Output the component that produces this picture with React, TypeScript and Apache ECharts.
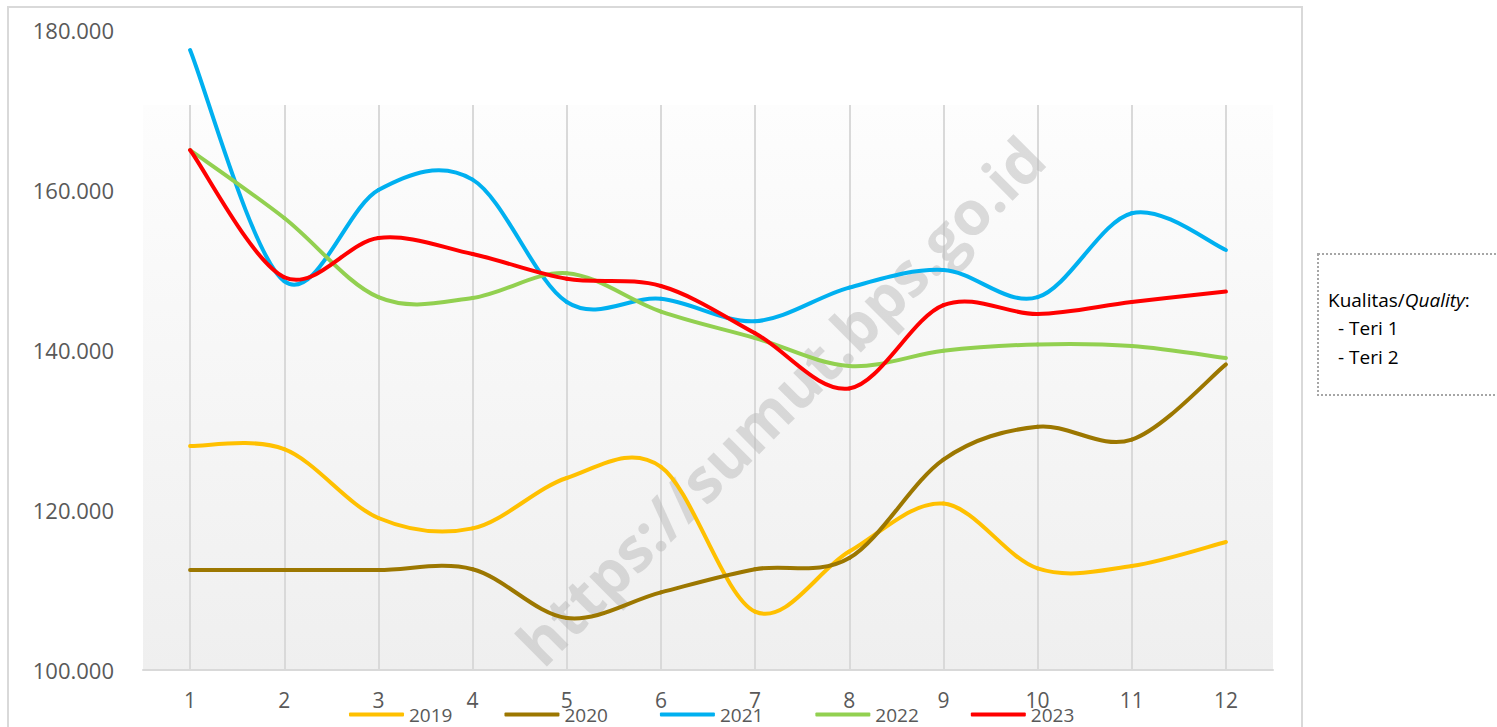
import React, { useEffect, useRef } from 'react';
import * as echarts from 'echarts';

const months = ['1', '2', '3', '4', '5', '6', '7', '8', '9', '10', '11', '12'];
const years = ['2019', '2020', '2021', '2022', '2023'];
const v2019 = [128000, 127600, 119000, 117700, 124000, 125400, 107300, 114800, 120800, 112700, 113000, 116000];
const v2020 = [112500, 112500, 112500, 112600, 106500, 109700, 112600, 114000, 126300, 130400, 128800, 138200];
const v2021 = [177500, 148600, 160000, 161300, 146000, 146400, 143600, 147800, 150000, 146600, 157100, 152500];
const v2022 = [165000, 156500, 146600, 146500, 149600, 144800, 141500, 138000, 139900, 140700, 140500, 139000];
const v2023 = [165000, 149100, 154000, 152000, 148900, 148000, 142100, 135200, 145600, 144500, 146000, 147300];
const seriesValues = [v2019, v2020, v2021, v2022, v2023];
const colors = ['#FFC000', '#9C7700', '#00B0F0', '#92D050', '#FF0000'];
const yMin = 100000;
const yMax = 180000;
const yStep = 20000;
const noteTitle = ['Kualitas/', 'Quality', ':'];
const noteLines = ['- Teri 1', '- Teri 2'];
const watermark = 'https://sumut.bps.go.id';

const fmt = (v: number) => `${Math.floor(v / 1000)}.${String(Math.round(v % 1000)).padStart(3, '0')}`;

function makeRenderItem(values: number[], color: string) {
  return (params: any, api: any) => {
    const i = params.dataIndex;
    const n = values.length;
    if (i >= n - 1) return null;
    const pt = (k: number) => api.coord([Math.max(0, Math.min(n - 1, k)), values[Math.max(0, Math.min(n - 1, k))]]);
    const p0 = pt(i - 1);
    const p1 = pt(i);
    const p2 = pt(i + 1);
    const p3 = pt(i + 2);
    return {
      type: 'bezierCurve',
      shape: {
        x1: p1[0], y1: p1[1],
        cpx1: p1[0] + (p2[0] - p0[0]) / 6, cpy1: p1[1] + (p2[1] - p0[1]) / 6,
        cpx2: p2[0] - (p3[0] - p1[0]) / 6, cpy2: p2[1] - (p3[1] - p1[1]) / 6,
        x2: p2[0], y2: p2[1],
      },
      style: { stroke: color, lineWidth: 4, fill: 'none', lineCap: 'round' },
    };
  };
}

export default function App() {
  const ref = useRef<HTMLDivElement>(null);
  useEffect(() => {
    if (!ref.current) return;
    const chart = echarts.init(ref.current, undefined, { renderer: 'svg' });
    const font = 'Open Sans';
    const option: any = {
      animation: false,
      textStyle: { fontFamily: font },
      grid: [
        {
          left: 143, right: 224, top: 105, bottom: 57, show: true, borderWidth: 0,
          backgroundColor: new echarts.graphic.LinearGradient(0, 0, 0, 1, [
            { offset: 0, color: '#fdfdfd' },
            { offset: 1, color: '#efefef' },
          ]),
        },
        { left: 143, right: 224, top: 30, bottom: 57 },
      ],
      xAxis: [
        {
          gridIndex: 0, type: 'category', data: months, boundaryGap: true,
          axisLabel: { show: false }, axisTick: { show: false }, axisLine: { show: false },
          splitLine: { show: true, alignWithLabel: true, lineStyle: { color: '#d9d9d9', width: 2 } },
        },
        {
          gridIndex: 1, type: 'category', data: months, boundaryGap: true,
          axisLine: { lineStyle: { color: '#d9d9d9', width: 2 } },
          axisTick: { show: false },
          axisLabel: { color: '#595959', fontSize: 21, margin: 19, fontFamily: font },
          splitLine: { show: false },
        },
      ],
      yAxis: [
        { gridIndex: 0, type: 'value', min: 0, max: 1, show: false },
        {
          gridIndex: 1, type: 'value', min: yMin, max: yMax, interval: yStep,
          axisLine: { show: false }, axisTick: { show: false }, splitLine: { show: false },
          axisLabel: { color: '#595959', fontSize: 22, margin: 29, fontFamily: font, formatter: fmt },
        },
      ],
      legend: {
        data: years, left: 344, top: 700, itemWidth: 55, itemHeight: 4, itemGap: 52,
        icon: 'roundRect',
        textStyle: { color: '#595959', fontSize: 19, fontFamily: font },
      },
      graphic: [
        {
          type: 'rect', silent: true, z: 0,
          shape: { x: 8, y: 7, width: 1294, height: 740 },
          style: { fill: 'none', stroke: '#d9d9d9', lineWidth: 2 },
        },
        {
          type: 'text', silent: true, z: 1,
          x: 780, y: 400, rotation: Math.PI / 4,
          style: {
            text: watermark, font: `bold 61px "${font}"`, fill: 'rgba(185,185,185,0.5)',
            align: 'center', verticalAlign: 'middle',
          },
        },
        {
          type: 'rect', silent: true,
          shape: { x: 1318, y: 254, width: 200, height: 141 },
          style: { fill: 'none', stroke: '#a6a6a6', lineWidth: 2, lineDash: [2, 2] },
        },
        {
          type: 'text', silent: true, x: 1328, y: 300,
          style: {
            text: `{a|${noteTitle[0]}}{b|${noteTitle[1]}}{a|${noteTitle[2]}}`,
            verticalAlign: 'middle',
            rich: {
              a: { fontSize: 19, fontFamily: font, fill: '#000' },
              b: { fontSize: 19, fontFamily: font, fill: '#000', fontStyle: 'italic' },
            },
          },
        },
        ...noteLines.map((t, i) => ({
          type: 'text', silent: true, x: 1338, y: 328 + i * 29,
          style: { text: t, font: `19px "${font}"`, fill: '#000', verticalAlign: 'middle' },
        })),
      ],
      series: years.map((y, i) => ({
        name: y, type: 'custom', xAxisIndex: 1, yAxisIndex: 1,
        data: seriesValues[i].map((v, k) => [k, v]),
        encode: { x: 0, y: 1 },
        renderItem: makeRenderItem(seriesValues[i], colors[i]),
        clip: false, z: 3,
        itemStyle: { color: colors[i] },
      })),
    };
    chart.setOption(option);
    return () => chart.dispose();
  }, []);
  return <div ref={ref} style={{ position: 'absolute', left: 0, top: 0, width: 1497, height: 727 }} />;
}
